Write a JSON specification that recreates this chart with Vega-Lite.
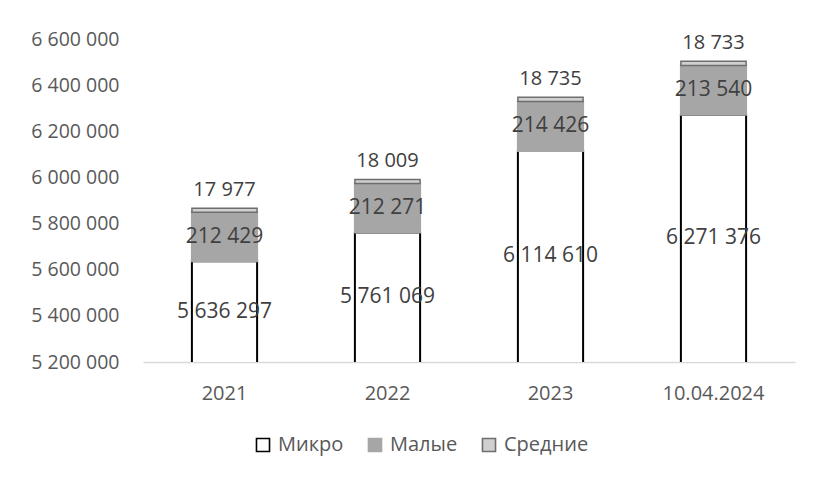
{
  "$schema": "https://vega.github.io/schema/vega-lite/v6.json",
  "width": 652,
  "height": 323,
  "autosize": {"type": "none"},
  "padding": {"left": 143, "top": 39, "right": 22, "bottom": 118},
  "config": {
    "view": {"stroke": null},
    "font": "Open Sans",
    "locale": {"number": {"decimal": ",", "thousands": " ", "grouping": [3], "currency": ["", ""]}}
  },
  "data": {
    "values": [
      {"year": "2021", "cat": "Микро", "order": 1, "value": 5636297},
      {"year": "2021", "cat": "Малые", "order": 2, "value": 212429},
      {"year": "2021", "cat": "Средние", "order": 3, "value": 17977},
      {"year": "2022", "cat": "Микро", "order": 1, "value": 5761069},
      {"year": "2022", "cat": "Малые", "order": 2, "value": 212271},
      {"year": "2022", "cat": "Средние", "order": 3, "value": 18009},
      {"year": "2023", "cat": "Микро", "order": 1, "value": 6114610},
      {"year": "2023", "cat": "Малые", "order": 2, "value": 214426},
      {"year": "2023", "cat": "Средние", "order": 3, "value": 18735},
      {"year": "10.04.2024", "cat": "Микро", "order": 1, "value": 6271376},
      {"year": "10.04.2024", "cat": "Малые", "order": 2, "value": 213540},
      {"year": "10.04.2024", "cat": "Средние", "order": 3, "value": 18733}
    ]
  },
  "transform": [
    {"stack": "value", "groupby": ["year"], "sort": [{"field": "order", "order": "ascending"}], "as": ["v0", "v1"]},
    {"calculate": "datum.cat === 'Средние' ? datum.v1 : (max(datum.v0, 5200000) + datum.v1) / 2", "as": "ly"}
  ],
  "layer": [
    {
      "mark": {"type": "bar", "clip": true, "strokeWidth": 2},
      "encoding": {
        "x": {
          "field": "year", "type": "nominal", "sort": null,
          "scale": {"paddingInner": 0.6, "paddingOuter": 0.3},
          "axis": {"title": null, "labelAngle": 0, "ticks": false, "domainColor": "#d9d9d9", "domainWidth": 1.3, "labelFontSize": 20, "labelColor": "#595959", "labelPadding": 21, "labelFont": "Open Sans"}
        },
        "y": {
          "field": "v1", "type": "quantitative",
          "scale": {"domain": [5200000, 6600000], "zero": false, "nice": false},
          "axis": {"title": null, "domain": false, "ticks": false, "grid": false, "values": [5200000, 5400000, 5600000, 5800000, 6000000, 6200000, 6400000, 6600000], "format": ",d", "labelFontSize": 19.5, "labelColor": "#595959", "labelPadding": 24, "labelFont": "Open Sans"}
        },
        "y2": {"field": "v0"},
        "color": {
          "field": "cat", "type": "nominal",
          "scale": {"domain": ["Микро", "Малые", "Средние"], "range": ["#ffffff", "#a6a6a6", "#d0d0d0"]},
          "legend": {"title": null, "orient": "none", "legendX": 110, "legendY": 396, "direction": "horizontal", "symbolType": "square", "symbolSize": 170, "symbolStrokeWidth": 1.6, "labelFontSize": 20, "labelColor": "#595959", "labelOffset": 5, "columnPadding": 21, "labelFont": "Open Sans"}
        },
        "stroke": {
          "field": "cat", "type": "nominal",
          "scale": {"domain": ["Микро", "Малые", "Средние"], "range": ["#000000", "#a6a6a6", "#6e6e6e"]},
          "legend": {"title": null, "orient": "none", "legendX": 110, "legendY": 396, "direction": "horizontal", "symbolType": "square", "symbolSize": 170, "symbolStrokeWidth": 1.6, "labelFontSize": 20, "labelColor": "#595959", "labelOffset": 5, "columnPadding": 21, "labelFont": "Open Sans"}
        },
        "strokeWidth": {"condition": {"test": "datum.cat === 'Средние'", "value": 1.5}, "value": 2}
      }
    },
    {
      "transform": [{"filter": "datum.cat !== 'Средние'"}],
      "mark": {"type": "text", "fontSize": 21, "color": "#404040", "baseline": "middle", "align": "center", "font": "Open Sans"},
      "encoding": {
        "x": {"field": "year", "type": "nominal", "sort": null},
        "y": {"field": "ly", "type": "quantitative"},
        "text": {"field": "value", "type": "quantitative", "format": ",d"}
      }
    },
    {
      "transform": [{"filter": "datum.cat === 'Средние'"}],
      "mark": {"type": "text", "fontSize": 20, "color": "#404040", "baseline": "middle", "align": "center", "dy": -18, "font": "Open Sans"},
      "encoding": {
        "x": {"field": "year", "type": "nominal", "sort": null},
        "y": {"field": "ly", "type": "quantitative"},
        "text": {"field": "value", "type": "quantitative", "format": ",d"}
      }
    }
  ]
}
